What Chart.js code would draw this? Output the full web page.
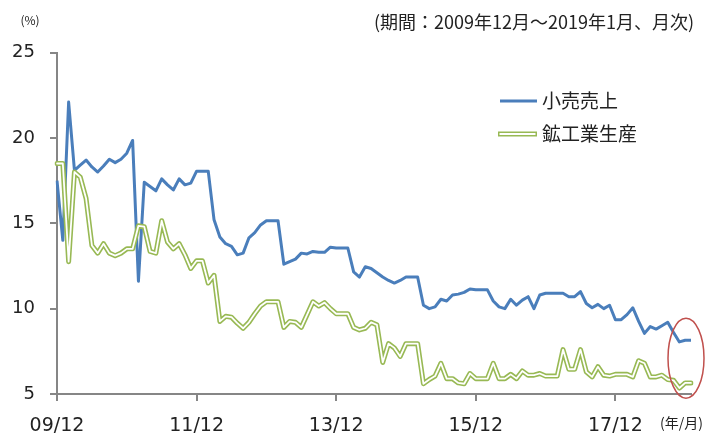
<!DOCTYPE html>
<html>
<head>
<meta charset="utf-8">
<script src="https://cdn.jsdelivr.net/npm/chart.js@4.4.1/dist/chart.umd.min.js"></script>
<style>
html,body{margin:0;padding:0;background:#fff;}
canvas{display:block;}
</style>
</head>
<body>
<canvas id="c" width="705" height="433"></canvas>
<script>
// Monthly categories: 2009/12 – 2019/01
const startYear = 2009, startMonth = 12, monthCount = 110;
const months = [];
for (let k = 0; k < monthCount; k++) {
  const m0 = startMonth - 1 + k;
  const y = startYear + Math.floor(m0 / 12);
  const m = (m0 % 12) + 1;
  months.push(String(y % 100).padStart(2, '0') + '/' + String(m).padStart(2, '0'));
}
const tickLabels = ['09/12', '11/12', '13/12', '15/12', '17/12'];
const yTicks = [5, 10, 15, 20, 25];

const seriesNames = ['小売売上', '鉱工業生産'];

// 小売売上 (%)
const retail = [
  17.5, 14.0, 22.1, 18.1, 18.4, 18.7, 18.3, 18.0, 18.35, 18.75,
  18.55, 18.75, 19.1, 19.85, 11.6, 17.4, 17.15, 16.9, 17.6, 17.25,
  16.95, 17.6, 17.25, 17.35, 18.05, 18.05, 18.05, 15.2, 14.2, 13.8,
  13.65, 13.15, 13.25, 14.15, 14.45, 14.9, 15.15, 15.15, 15.15, 12.6,
  12.75, 12.9, 13.25, 13.2, 13.35, 13.3, 13.3, 13.6, 13.55, 13.55,
  13.55, 12.15, 11.85, 12.45, 12.35, 12.1, 11.85, 11.65, 11.5, 11.65,
  11.85, 11.85, 11.85, 10.2, 10.0, 10.1, 10.55, 10.45, 10.8, 10.85,
  10.95, 11.15, 11.1, 11.1, 11.1, 10.45, 10.1, 10.0, 10.55, 10.2,
  10.5, 10.7, 10.0, 10.8, 10.9, 10.9, 10.9, 10.9, 10.7, 10.7,
  11.0, 10.3, 10.05, 10.25, 10.0, 10.2, 9.35, 9.35, 9.65, 10.05,
  9.25, 8.55, 8.95, 8.8, 9.0, 9.2, 8.6, 8.05, 8.15, 8.15
];

// 鉱工業生産 (%)
const industry = [
  18.5, 18.5, 12.75, 18.0, 17.7, 16.45, 13.7, 13.25, 13.8, 13.25,
  13.1, 13.25, 13.5, 13.5, 14.85, 14.8, 13.35, 13.25, 15.15, 13.9,
  13.5, 13.8, 13.15, 12.35, 12.8, 12.8, 11.5, 11.95, 9.25, 9.55,
  9.5, 9.15, 8.85, 9.2, 9.7, 10.15, 10.4, 10.4, 10.4, 8.9,
  9.25, 9.2, 8.9, 9.65, 10.4, 10.15, 10.35, 10.0, 9.7, 9.7,
  9.7, 8.9, 8.75, 8.85, 9.2, 9.05, 6.85, 7.95, 7.7, 7.2,
  7.95, 7.95, 7.95, 5.6, 5.85, 6.05, 6.8, 5.9, 5.9, 5.65,
  5.6, 6.2, 5.9, 5.9, 5.9, 6.8, 5.9, 5.9, 6.15, 5.9,
  6.35, 6.1, 6.1, 6.2, 6.05, 6.05, 6.05, 7.6, 6.45, 6.45,
  7.6, 6.3, 6.0, 6.6, 6.1, 6.05, 6.15, 6.15, 6.15, 6.0,
  6.95, 6.8, 6.0, 6.0, 6.1, 5.85, 5.8, 5.35, 5.65, 5.65
];

const BLUE = '#4A7EBB';
const GREEN = '#98B954';
const AXIS = '#868686';
const RED = '#C0504D';
const CJK = '"Noto Sans CJK JP", "Noto Sans", sans-serif';
const NUM = '"DejaVu Sans", Verdana, sans-serif';

const extras = {
  id: 'extras',
  afterDraw(chart) {
    const ctx = chart.ctx;
    const xs = chart.scales.x, ys = chart.scales.y;
    ctx.save();
    // header texts
    ctx.fillStyle = '#222';
    ctx.textBaseline = 'middle';
    ctx.font = '12px ' + CJK;
    ctx.textAlign = 'center';
    ctx.fillText('(%)', 30, 20);
    ctx.font = '18px ' + CJK;
    ctx.textAlign = 'right';
    ctx.fillText('(期間：2009年12月～2019年1月、月次)', 694, 22);
    ctx.font = '14px ' + CJK;
    ctx.textAlign = 'left';
    ctx.fillText('(年/月)', 660, 423);

    // legend
    ctx.lineCap = 'butt';
    ctx.strokeStyle = BLUE; ctx.lineWidth = 3;
    ctx.beginPath(); ctx.moveTo(500, 101); ctx.lineTo(537, 101); ctx.stroke();
    ctx.strokeStyle = GREEN; ctx.lineWidth = 5;
    ctx.beginPath(); ctx.moveTo(498, 134); ctx.lineTo(537, 134); ctx.stroke();
    ctx.strokeStyle = '#fff'; ctx.lineWidth = 2;
    ctx.beginPath(); ctx.moveTo(499.5, 134); ctx.lineTo(535.5, 134); ctx.stroke();
    ctx.fillStyle = '#222';
    ctx.font = '19px ' + CJK;
    ctx.textAlign = 'left';
    ctx.fillText(seriesNames[0], 542, 101);
    ctx.fillText(seriesNames[1], 542, 134);

    // red ellipse highlighting the latest values
    const last = retail.length - 1;
    const cx = xs.getPixelForValue(last) - 5;
    const cy = ys.getPixelForValue(7.1);
    ctx.strokeStyle = RED; ctx.lineWidth = 1.5;
    ctx.beginPath();
    ctx.ellipse(cx, cy, 18, 40, 0, 0, Math.PI * 2);
    ctx.stroke();
    ctx.restore();
  }
};

new Chart(document.getElementById('c'), {
  type: 'line',
  data: {
    labels: months,
    datasets: [
      { label: seriesNames[1] + '_inner', data: industry, borderColor: '#fff', borderWidth: 1.8,
        pointRadius: 0, tension: 0, fill: false, borderJoinStyle: 'round', borderCapStyle: 'round' },
      { label: seriesNames[1], data: industry, borderColor: GREEN, borderWidth: 5,
        pointRadius: 0, tension: 0, fill: false, borderJoinStyle: 'round', borderCapStyle: 'round' },
      { label: seriesNames[0], data: retail, borderColor: BLUE, borderWidth: 3,
        pointRadius: 0, tension: 0, fill: false, borderJoinStyle: 'round' }
    ]
  },
  options: {
    responsive: false,
    animation: false,
    devicePixelRatio: 1,
    layout: { padding: { left: 0, right: 13, top: 52.5, bottom: 0 } },
    plugins: { legend: { display: false }, tooltip: { enabled: false } },
    scales: {
      x: {
        type: 'category',
        offset: false,
        afterFit(s) { s.height = 39; },
        border: { display: true, color: AXIS, width: 2 },
        grid: {
          drawOnChartArea: false, drawTicks: true, tickLength: 7, lineWidth: 2,
          color: (c) => (c.tick && tickLabels.includes(c.tick.label)) ? AXIS : 'rgba(0,0,0,0)'
        },
        ticks: {
          autoSkip: false, maxRotation: 0, minRotation: 0, padding: 14,
          color: '#222', font: { family: NUM, size: 19 },
          callback(v, i) { const l = months[i]; return tickLabels.includes(l) ? l : ''; }
        }
      },
      y: {
        min: 5, max: 25,
        afterFit(s) { s.width = 57; },
        afterBuildTicks(s) { s.ticks = yTicks.map(v => ({ value: v })); },
        border: { display: true, color: AXIS, width: 2 },
        grid: { drawOnChartArea: false, drawTicks: true, tickLength: 7, lineWidth: 2, color: AXIS },
        ticks: { padding: 15, color: '#222', font: { family: NUM, size: 18 } }
      }
    }
  },
  plugins: [extras]
});
</script>
</body>
</html>
